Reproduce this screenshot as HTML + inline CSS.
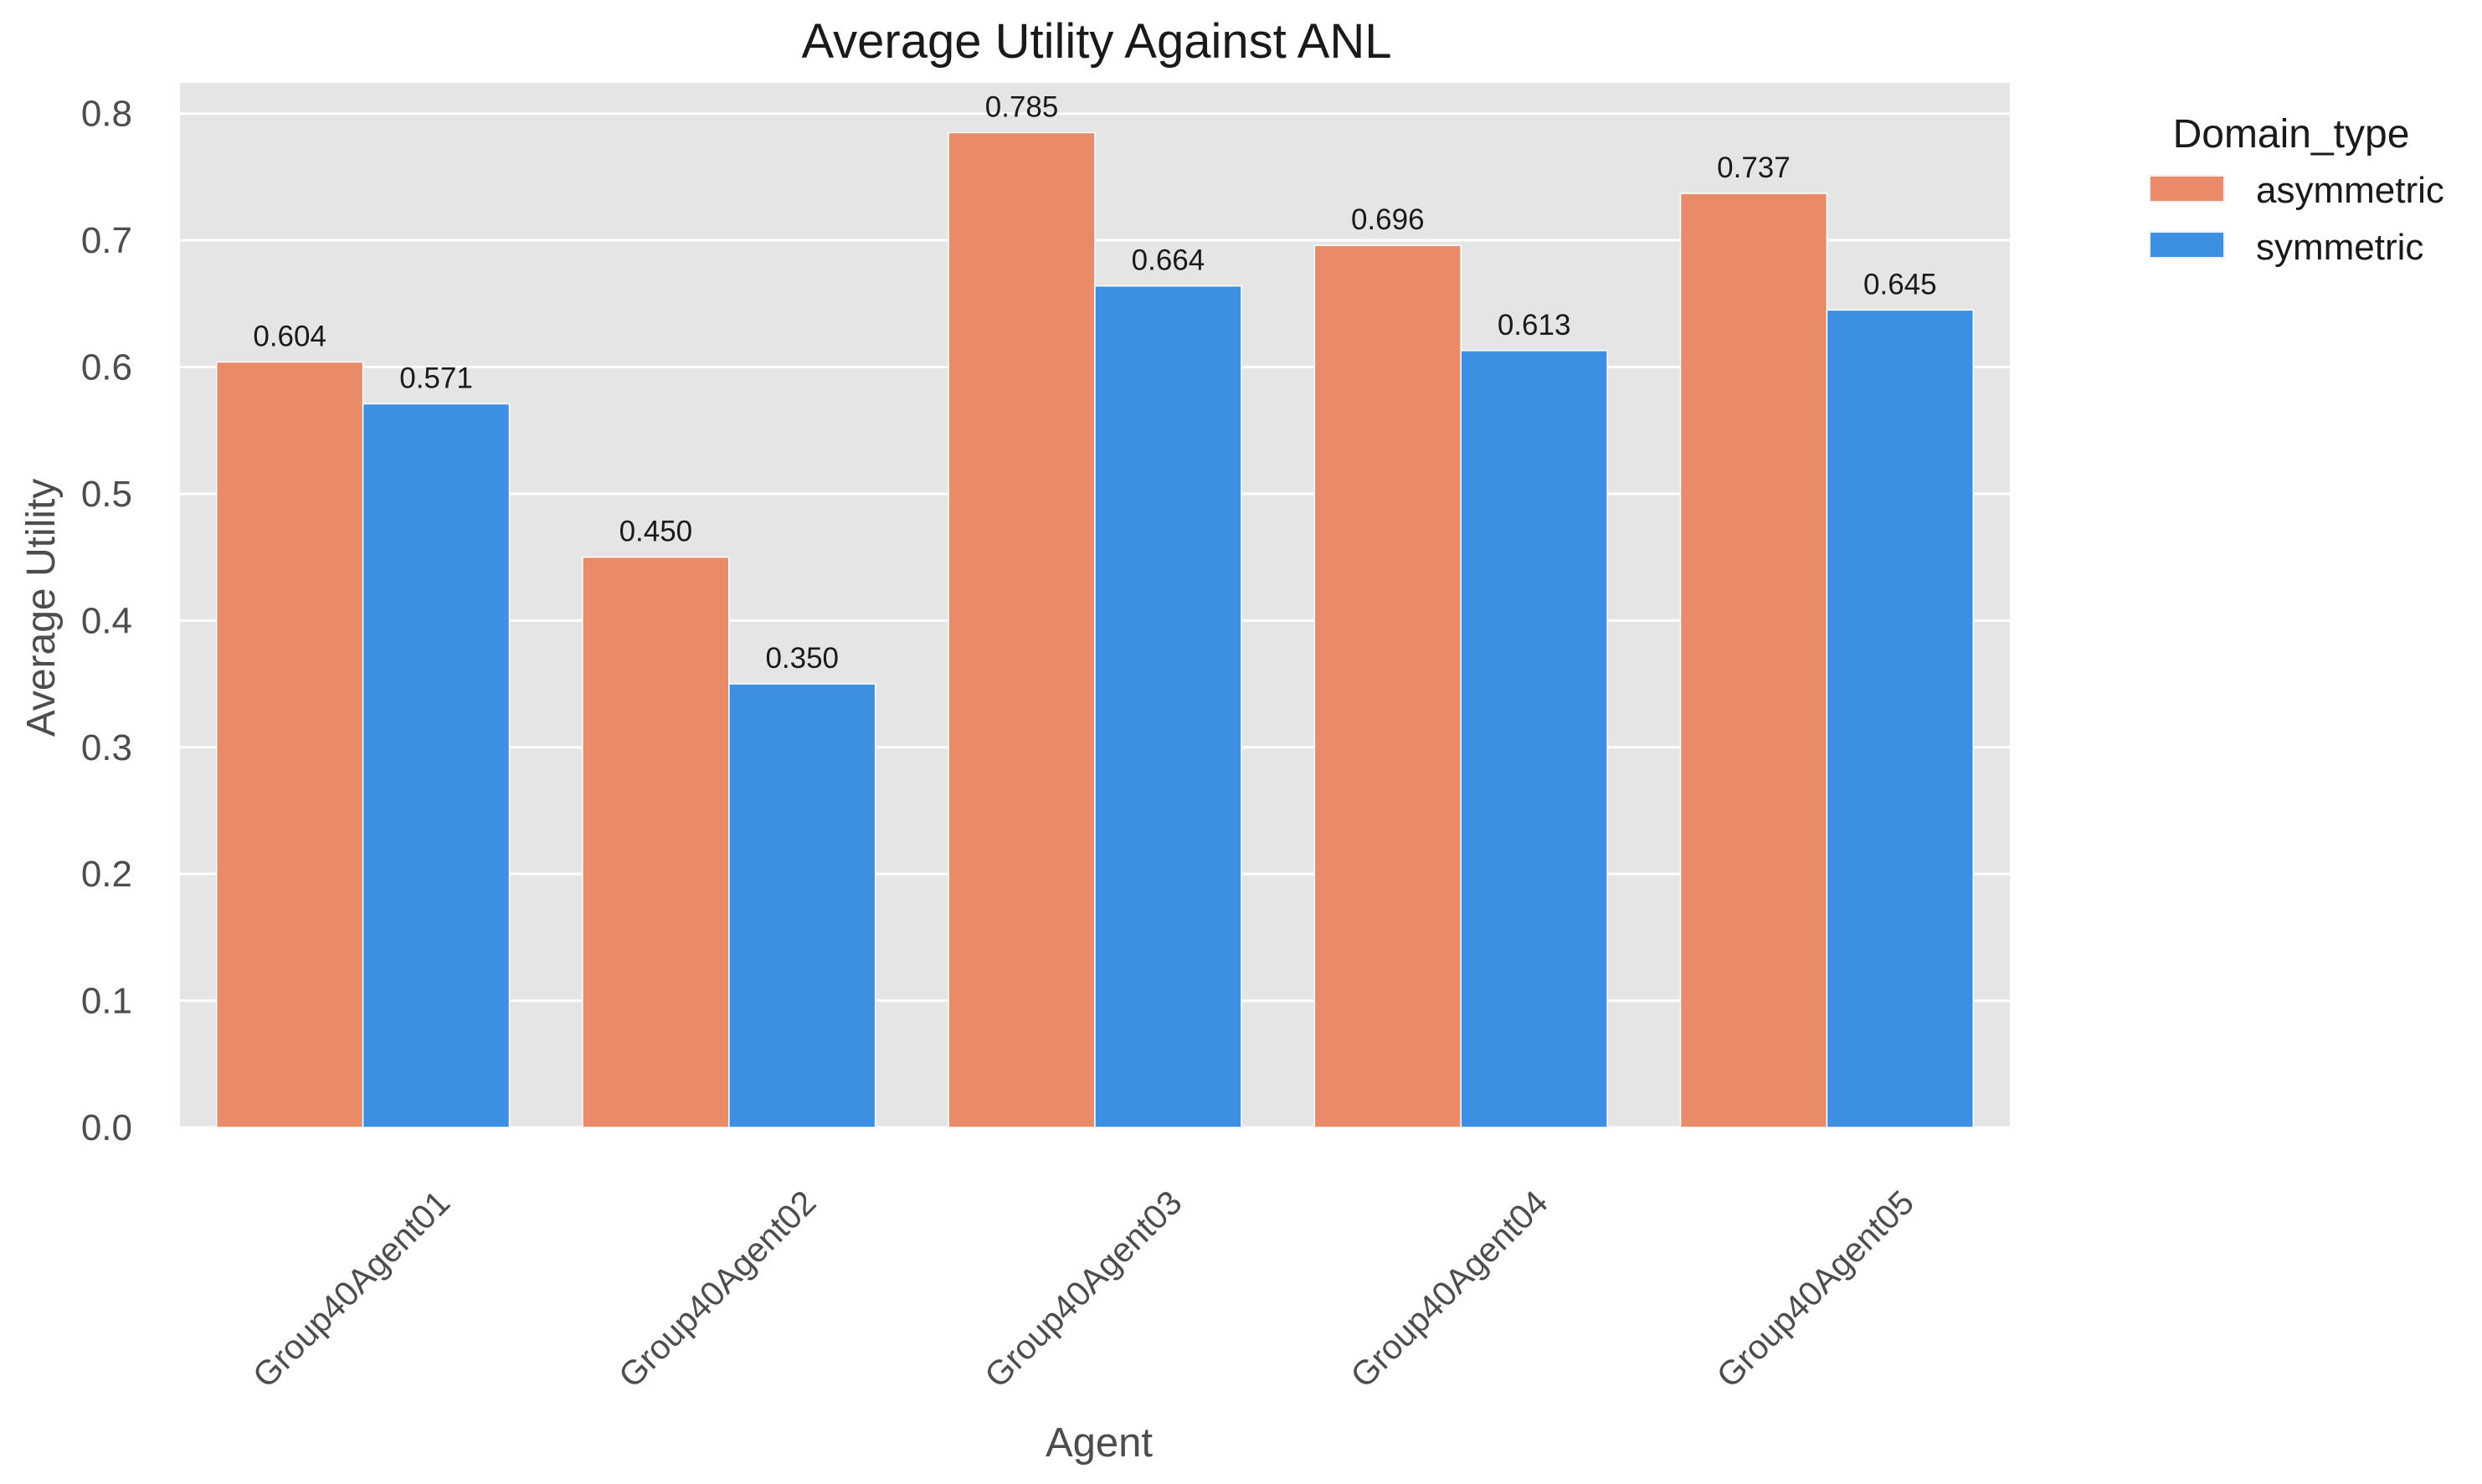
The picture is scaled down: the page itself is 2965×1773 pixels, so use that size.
<!DOCTYPE html>
<html><head><meta charset="utf-8"><style>
html,body{margin:0;padding:0;background:#fff;}
svg{display:block;font-family:"Liberation Sans",sans-serif;}
</style></head><body>
<svg id="chart" width="2965" height="1773" viewBox="0 0 2965 1773" xmlns="http://www.w3.org/2000/svg">
<rect x="215" y="99" width="2186" height="1248" fill="#e5e5e5"/>
<g id="grid"></g>
<g id="bars"></g>
<g id="yticks"></g>
<g id="xticks"></g>
<text x="1310" y="69" text-anchor="middle" font-size="58" fill="#1a1a1a">Average Utility Against ANL</text>
<text x="1313" y="1740" text-anchor="middle" font-size="49" fill="#4d4d4d">Agent</text>
<text transform="translate(65,726) rotate(-90)" text-anchor="middle" font-size="48" fill="#4d4d4d">Average Utility</text>
<g>
<text x="2737" y="176" text-anchor="middle" font-size="48" fill="#1a1a1a">Domain_type</text>
<g>
<rect x="2568" y="210" width="89" height="31" fill="#e98a69" stroke="#f0f0f0" stroke-width="2"/>
<text x="2695" y="242" font-size="44" fill="#1a1a1a">asymmetric</text></g>
<g>
<rect x="2568" y="277" width="89" height="31" fill="#3d8fe2" stroke="#f0f0f0" stroke-width="2"/>
<text x="2695" y="310" font-size="44" fill="#1a1a1a">symmetric</text></g>
</g>
</svg>
<script>
const categories = ["Group40Agent01","Group40Agent02","Group40Agent03","Group40Agent04","Group40Agent05"];
const asymmetricValues = [0.604, 0.450, 0.785, 0.696, 0.737];
const symmetricValues = [0.571, 0.350, 0.664, 0.613, 0.645];
const yTicks = [0.0, 0.1, 0.2, 0.3, 0.4, 0.5, 0.6, 0.7, 0.8];

const NS = "http://www.w3.org/2000/svg";
const L = 215, R = 2401, T = 99, B = 1347;
const yMax = Math.max(...asymmetricValues, ...symmetricValues) * 1.05;
function yScale(v){ return B - (v / yMax) * (B - T); }
const band = (R - L) / categories.length;
function xCenter(i){ return L + band * (i + 0.5); }
function mk(tag, attrs, parent){ const e = document.createElementNS(NS, tag); for (const k in attrs) e.setAttribute(k, attrs[k]); parent.appendChild(e); return e; }

const grid = document.getElementById('grid');
const yt = document.getElementById('yticks');
yTicks.forEach(t => {
  const y = yScale(t);
  const ln = mk('line', {x1: L, x2: R, y1: y, y2: y, stroke: '#ffffff', 'stroke-width': 3}, grid);
  
  
  const tx = mk('text', {x: 158, y: y + 15, 'text-anchor': 'end', 'font-size': 44, fill: '#4d4d4d'}, yt);
  tx.textContent = t.toFixed(1);
  
  
});

const bars = document.getElementById('bars');
const series = [[asymmetricValues, '#e98a69', 'asymmetric'], [symmetricValues, '#3d8fe2', 'symmetric']];
const bw = band * 0.4;
categories.forEach((c, i) => {
  series.forEach(([vals, col, nm], s) => {
    const x = xCenter(i) - band * 0.4 + s * bw;
    const y = yScale(vals[i]);
    const r = mk('rect', {x: x, y: y, width: bw, height: B - y, fill: col, stroke: '#ffffff', 'stroke-width': 1.5}, bars);
    
    
    const lb = mk('text', {x: x + bw / 2, y: y - 19, 'text-anchor': 'middle', 'font-size': 35, fill: '#1a1a1a'}, bars);
    lb.textContent = vals[i].toFixed(3);
    
    
  });
});

const xt = document.getElementById('xticks');
categories.forEach((c, i) => {
  const cx = xCenter(i) - 14, cy = 1540;
  const tx = mk('text', {x: cx, y: cy, transform: 'rotate(-45 ' + cx + ' ' + cy + ')', 'text-anchor': 'middle', 'dominant-baseline': 'central', 'font-size': 41, fill: '#4d4d4d'}, xt);
  tx.textContent = c;
  
  
});
</script>
</body></html>
